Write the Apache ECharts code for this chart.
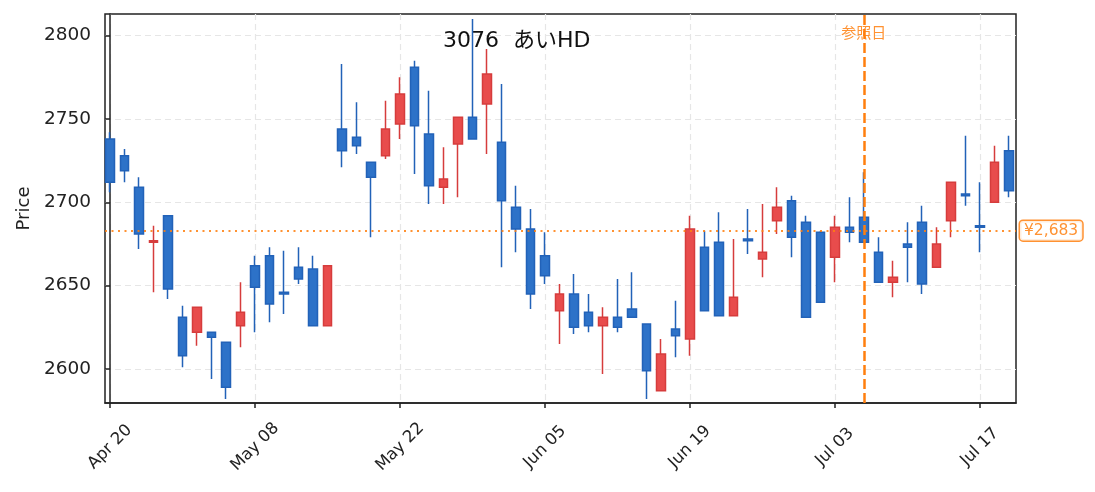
<!DOCTYPE html>
<html>
<head>
    <meta charset="utf-8">
    <script src="https://cdn.jsdelivr.net/npm/echarts@6/dist/echarts.min.js"></script>
    <style>
        html, body { margin: 0; padding: 0; background: #fff; }
        #main { width: 1095px; height: 492px; }
    </style>
</head>
<body>
    <div id="main"></div>
    <script>
        // trading days (2020), one per candle
        var dates = [
            'Apr 20', 'Apr 21', 'Apr 22', 'Apr 23', 'Apr 24', 'Apr 27', 'Apr 28', 'Apr 30', 'May 01', 'May 07',
            'May 08', 'May 11', 'May 12', 'May 13', 'May 14', 'May 15', 'May 18', 'May 19', 'May 20', 'May 21',
            'May 22', 'May 25', 'May 26', 'May 27', 'May 28', 'May 29', 'Jun 01', 'Jun 02', 'Jun 03', 'Jun 04',
            'Jun 05', 'Jun 08', 'Jun 09', 'Jun 10', 'Jun 11', 'Jun 12', 'Jun 15', 'Jun 16', 'Jun 17', 'Jun 18',
            'Jun 19', 'Jun 22', 'Jun 23', 'Jun 24', 'Jun 25', 'Jun 26', 'Jun 29', 'Jun 30', 'Jul 01', 'Jul 02',
            'Jul 03', 'Jul 06', 'Jul 07', 'Jul 08', 'Jul 09', 'Jul 10', 'Jul 13', 'Jul 14', 'Jul 15', 'Jul 16',
            'Jul 17', 'Jul 20', 'Jul 21'
        ];
        var open = [
            2738, 2728, 2709, 2676, 2692, 2631, 2622, 2622, 2616, 2626,
            2662, 2668, 2646, 2661, 2660, 2626, 2744, 2739, 2724, 2728,
            2747, 2781, 2741, 2709, 2735, 2751, 2759, 2736, 2697, 2684,
            2668, 2635, 2645, 2634, 2626, 2631, 2636, 2627, 2587, 2624,
            2618, 2673, 2676, 2632, 2678, 2666, 2689, 2701, 2688, 2682,
            2667, 2685, 2691, 2670, 2652, 2675, 2688, 2661, 2689, 2705,
            2686, 2700, 2731
        ];
        var close = [
            2712, 2719, 2681, 2677, 2648, 2608, 2637, 2619, 2589, 2634,
            2649, 2639, 2645, 2654, 2626, 2662, 2731, 2734, 2715, 2744,
            2765, 2746, 2710, 2714, 2751, 2738, 2777, 2701, 2684, 2645,
            2656, 2645, 2625, 2626, 2631, 2625, 2631, 2599, 2609, 2620,
            2684, 2635, 2632, 2643, 2677, 2670, 2697, 2679, 2631, 2640,
            2685, 2682, 2676, 2652, 2655, 2673, 2651, 2675, 2712, 2704,
            2685, 2724, 2707
        ];
        var low = [
            2706, 2712, 2672, 2646, 2642, 2601, 2614, 2594, 2582, 2613,
            2622, 2628, 2633, 2651, 2626, 2626, 2721, 2729, 2679, 2726,
            2738, 2717, 2699, 2699, 2703, 2738, 2729, 2661, 2670, 2636,
            2651, 2615, 2621, 2622, 2597, 2622, 2631, 2582, 2587, 2607,
            2608, 2635, 2632, 2632, 2669, 2655, 2681, 2667, 2631, 2640,
            2652, 2676, 2676, 2652, 2643, 2652, 2645, 2661, 2679, 2698,
            2670, 2700, 2703
        ];
        var high = [
            2742, 2732, 2715, 2686, 2692, 2638, 2637, 2622, 2616, 2652,
            2668, 2673, 2671, 2673, 2668, 2662, 2783, 2760, 2724, 2761,
            2775, 2785, 2767, 2733, 2751, 2810, 2792, 2771, 2710, 2696,
            2682, 2651, 2657, 2645, 2637, 2654, 2658, 2627, 2618, 2641,
            2692, 2683, 2694, 2678, 2696, 2699, 2709, 2704, 2692, 2683,
            2692, 2703, 2718, 2679, 2665, 2688, 2698, 2685, 2712, 2740,
            2712, 2734, 2740
        ];
        var tickIdx = [0, 10, 20, 30, 40, 50, 60];
        var priceTicks = [2600, 2650, 2700, 2750, 2800];
        var refPrice = 2683;
        var refIdx = 52;
        var refLabel = '参照日';
        var titleText = '3076  あいHD';

        var font = '"DejaVu Sans", "Noto Sans CJK JP", sans-serif';
        var orange = '#ff7f0e';

        var candles = [];
        for (var i = 0; i < dates.length; i++) {
            candles.push([i, open[i], close[i], low[i], high[i]]);
        }

        var chart = echarts.init(document.getElementById('main'));

        var option = {
            animation: false,
            textStyle: { fontFamily: font },
            grid: {
                left: 105, right: 79, top: 14, bottom: 89,
                show: true,
                borderColor: '#222',
                borderWidth: 1.5,
                backgroundColor: 'transparent'
            },
            xAxis: {
                type: 'value',
                min: -0.35,
                max: 62.5,
                axisLine: { show: true, onZero: false, lineStyle: { color: '#222', width: 1.5 } },
                axisTick: { show: true, length: 5, customValues: tickIdx, lineStyle: { color: '#222', width: 1.5 } },
                axisLabel: {
                    customValues: tickIdx,
                    rotate: 45,
                    align: 'center',
                    verticalAlign: 'middle',
                    fontSize: 16.5,
                    color: '#222',
                    margin: 44,
                    fontFamily: font,
                    formatter: function (v) { return dates[Math.round(v)] || ''; }
                },
                splitLine: { show: true, lineStyle: { color: '#e6e6e6', type: [6, 4], width: 1.2 } }
            },
            yAxis: {
                type: 'value',
                min: 2579.6,
                max: 2813,
                name: 'Price',
                nameLocation: 'middle',
                nameGap: 70,
                nameTextStyle: { fontSize: 18, color: '#222', fontFamily: font },
                axisLine: { show: true, lineStyle: { color: '#222', width: 1.5 } },
                axisTick: { show: true, length: 5, customValues: priceTicks, lineStyle: { color: '#222', width: 1.5 } },
                axisLabel: {
                    customValues: priceTicks,
                    fontSize: 18.5,
                    color: '#222',
                    margin: 14,
                    fontFamily: font,
                    formatter: function (v) { return String(v); }
                },
                splitLine: { show: true, lineStyle: { color: '#e6e6e6', type: [6, 4], width: 1.2 } }
            },
            series: [{
                type: 'candlestick',
                data: candles,
                encode: { x: 0, y: [1, 2, 3, 4] },
                barWidth: 9,
                itemStyle: {
                    color: '#e84c4c',
                    color0: '#2d72c8',
                    borderColor: '#d63c3c',
                    borderColor0: '#2262b8',
                    borderWidth: 1.5
                },
                markLine: {
                    silent: true,
                    symbol: 'none',
                    data: [{
                        yAxis: refPrice,
                        lineStyle: { color: orange, type: [2, 4.5], width: 2, opacity: 0.85 },
                        label: {
                            show: true,
                            position: 'end',
                            distance: 4,
                            formatter: '¥' + refPrice.toLocaleString('en-US'),
                            color: orange,
                            fontSize: 15.5,
                            fontFamily: font,
                            backgroundColor: '#fff',
                            borderColor: orange,
                            borderWidth: 1.5,
                            borderRadius: 3,
                            padding: [2, 4, 2, 4]
                        }
                    }, {
                        xAxis: refIdx,
                        lineStyle: { color: orange, type: [10, 4], width: 2.5, opacity: 1 },
                        label: { show: false }
                    }]
                }
            }]
        };

        chart.setOption(option);

        // labels placed from the chart's own coordinates
        var refPt = chart.convertToPixel({ gridIndex: 0 }, [refIdx, 2800]);
        chart.setOption({
            graphic: [{
                type: 'text',
                z: 0,
                x: 443,
                y: 41,
                style: {
                    text: titleText,
                    font: '22px ' + font,
                    fill: '#111',
                    verticalAlign: 'middle'
                }
            }, {
                type: 'text',
                z: 0,
                x: refPt[0],
                y: refPt[1] - 2,
                style: {
                    text: refLabel,
                    font: '15px ' + font,
                    fill: orange,
                    opacity: 0.85,
                    align: 'center',
                    verticalAlign: 'middle'
                }
            }]
        });
    </script>
</body>
</html>
